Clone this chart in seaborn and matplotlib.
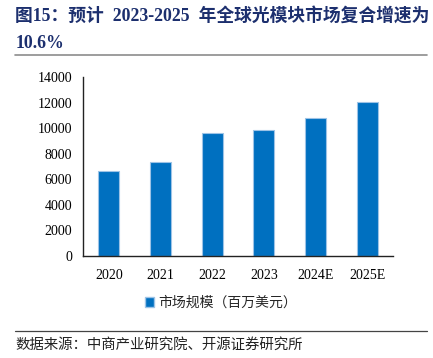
import matplotlib
matplotlib.use("Agg")
import matplotlib.pyplot as plt
import seaborn as sns
import pandas as pd
from matplotlib.lines import Line2D
from matplotlib.patches import Patch
from matplotlib.ticker import FixedLocator

# Data
years = ["2020", "2021", "2022", "2023", "2024E", "2025E"]
market_size = [6650, 7340, 9580, 9870, 10790, 12070]
series_name = "市场规模（百万美元）"

df = pd.DataFrame({"year": years, "value": market_size})

sns.set_style("white")
plt.rcParams["font.family"] = ["Liberation Serif", "Noto Sans CJK SC", "DejaVu Sans"]

fig = plt.figure(figsize=(4.33, 3.58), dpi=100)
ax = fig.add_axes([0.1917, 0.2849, 0.7159, 0.5001])

bar_color = "#0070C0"
sns.barplot(data=df, x="year", y="value", color=bar_color, width=0.41,
            edgecolor="#9DC3E6", linewidth=0.8, saturation=1, ax=ax)

ax.set_xlim(-0.5, len(years) - 0.5)
ax.set_ylim(0, 14000)
ax.set_yticks(range(0, 14001, 2000))
ax.set_xlabel("")
ax.set_ylabel("")

for s in ["top", "right"]:
    ax.spines[s].set_visible(False)
for s in ["left", "bottom"]:
    ax.spines[s].set_color("#222222")
    ax.spines[s].set_linewidth(1.0)

ax.tick_params(axis="y", direction="in", length=4, width=0.8, color="#222222",
               labelsize=10, pad=8, labelcolor="black")
ax.tick_params(axis="x", which="major", length=0, labelsize=10, pad=9, labelcolor="black")
ax.xaxis.set_minor_locator(FixedLocator([i + 0.5 for i in range(len(years))]))
ax.tick_params(axis="x", which="minor", direction="in", length=4, width=0.8, color="#555555")

# Legend below plot
handle = Patch(facecolor=bar_color, edgecolor="#9DC3E6")
fig.legend([handle], [series_name], loc="center", bbox_to_anchor=(0.51, 0.154),
           frameon=False, handlelength=0.7, handleheight=0.7, handletextpad=0.3,
           prop={"family": ["Noto Sans CJK SC"], "size": 10})

# Title
title_color = "#1c2f6e"
fig.text(0.035, 0.955, "图15：预计  2023-2025  年全球光模块市场复合增速为",
         fontsize=12.8, fontweight="bold", color=title_color, va="center", ha="left")
fig.text(0.035, 0.878, "10.6%", fontsize=12.8, fontweight="bold",
         color=title_color, va="center", ha="left")
fig.add_artist(Line2D([0.035, 0.985], [0.846, 0.846], color="#8c8c8c",
                      linewidth=1.2, transform=fig.transFigure))

# Source
fig.add_artist(Line2D([0.035, 0.985], [0.075, 0.075], color="#444444",
                      linewidth=0.9, transform=fig.transFigure))
fig.text(0.035, 0.036, "数据来源：中商产业研究院、开源证券研究所",
         fontsize=10.4, color="#222222", va="center", ha="left",
         family=["Noto Sans CJK SC"])

fig.savefig("out.png", dpi=100)
